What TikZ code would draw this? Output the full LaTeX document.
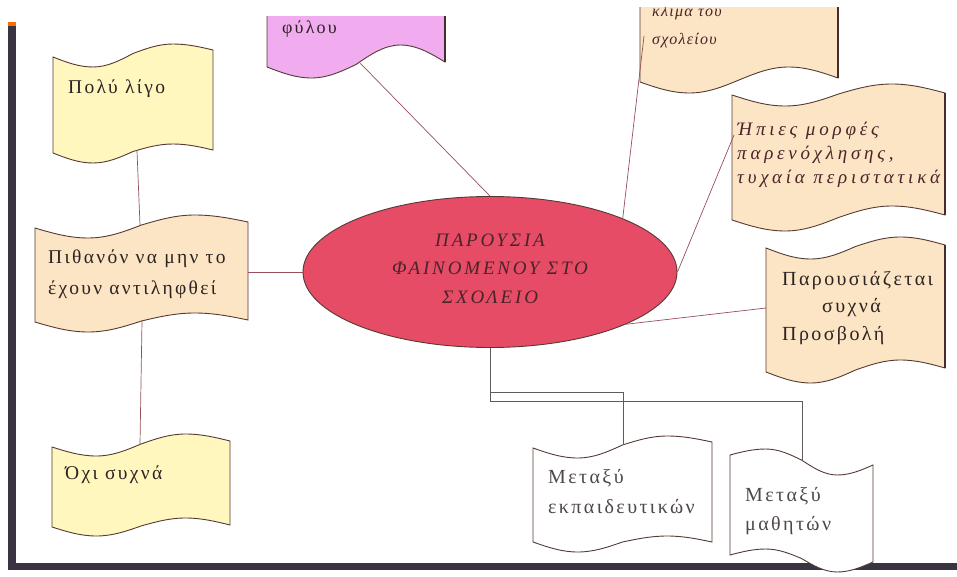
\documentclass[tikz,border=0pt]{standalone}
\usepackage{fontspec}
\setmainfont{Liberation Serif}
\newfontfamily\boxfont[LetterSpace=12]{Liberation Serif}
\newfontfamily\slantfont[LetterSpace=20]{Liberation Serif}
\newfontfamily\smallslant[LetterSpace=8]{Liberation Serif}
\newfontfamily\capfont[LetterSpace=15]{Liberation Serif}
\usetikzlibrary{shapes.geometric}

\definecolor{framec}{RGB}{58,52,66}
\definecolor{edgec}{RGB}{85,58,52}
\definecolor{linkc}{RGB}{150,80,90}
\definecolor{elbowc}{RGB}{95,90,95}
\definecolor{paleyellow}{RGB}{255,247,190}
\definecolor{peach}{RGB}{252,229,196}
\definecolor{orchid}{RGB}{240,172,238}
\definecolor{coral}{RGB}{230,76,102}
\definecolor{ink}{RGB}{45,35,35}
\definecolor{inkred}{RGB}{75,35,40}
\definecolor{inkgray}{RGB}{80,72,72}

% wavy banner outline: x0, x1, top-left y, top-right y,
% bottom-left y, bottom-right y, left swing, right swing
\newcommand\wavepath[8]{%
  (#1,#3) sin ({#1+(#2-#1)/4},{#3+#7}) cos ({(#1+#2)/2},{(#3+#4)/2})
  sin ({#1+3*(#2-#1)/4},{#4-#8}) cos (#2,#4)
  -- (#2,#6) sin ({#1+3*(#2-#1)/4},{#6-#8}) cos ({(#1+#2)/2},{(#5+#6)/2})
  sin ({#1+(#2-#1)/4},{#5+#7}) cos (#1,#5) -- cycle}

\begin{document}
\begin{tikzpicture}[x=1pt,y=-1pt,
  banner/.style={draw=edgec, line width=0.9pt},
  rim/.style={draw=edgec!80!black, line width=1.6pt},
  link/.style={draw=linkc, line width=0.7pt},
  elbow/.style={draw=elbowc, line width=0.8pt},
  txt/.style={anchor=base west, inner sep=0pt, align=left, text=ink,
    font=\boxfont\fontsize{19.5}{30}\selectfont},
  itxt/.style={txt, text=inkred},
]
\useasboundingbox (0,0) rectangle (957,577);
\fill[white] (0,0) rectangle (957,577);

% frame
\fill[framec] (8,24) rectangle (16,570);
\fill[orange!85!red] (8,22) rectangle (16,26);
\fill[framec] (8,563) rectangle (957,570);

% banners
\draw[banner, fill=paleyellow] \wavepath{53}{213}{57}{50}{153}{150}{10}{6};
\draw[banner, fill=peach] \wavepath{35}{248}{228}{222}{322}{320}{10}{7};
\draw[banner, fill=paleyellow] \wavepath{52}{230}{447}{441}{527}{525}{9}{7};
\draw[banner, fill=white] \wavepath{533}{712}{448}{442}{542}{542}{10}{6};
\draw[banner, fill=white] \wavepath{730}{873}{455}{465}{555}{562}{-6}{-10};
\draw[banner, fill=peach] \wavepath{732}{945}{95}{93}{220}{215}{11}{9};
\draw[rim] (945,93) -- (945,215);
\draw[banner, fill=peach] \wavepath{766}{945}{248}{245}{372}{368}{11}{8};
\draw[rim] (945,245) -- (945,368);
\begin{scope}
  \clip (0,17) rectangle (957,577);
  \draw[banner, fill=orchid] \wavepath{267}{445}{-20}{-20}{67}{62}{11}{17};
  \draw[rim] (445,0) -- (445,62);
  \node[txt, font=\boxfont\fontsize{18}{30}\selectfont] (pk-txt) at (282,34) {φύλου};
\end{scope}
\begin{scope}
  \clip (0,8) rectangle (957,577);
  \draw[banner, fill=peach] \wavepath{640}{838}{-20}{-20}{82}{78}{11}{11};
  \draw[rim] (838,0) -- (838,78);
  \node[itxt, font=\smallslant\itshape\fontsize{16}{28}\selectfont] (kl-txt) at (652,45) {κλιμα του\\σχολείου};
\end{scope}

% attachment points on the banners
\coordinate (pl-s) at (137,151);
\coordinate (pt-n) at (140,225);
\coordinate (pt-s) at (142,321);
\coordinate (pt-e) at (248,272);
\coordinate (oc-n) at (140,444);
\coordinate (pk-s) at (360,63);
\coordinate (kl-w) at (644,36);
\coordinate (hp-w) at (734,135);
\coordinate (pr-w) at (766,308);
\coordinate (ek-n) at (623,445);
\coordinate (mt-n) at (802,460);

% central ellipse
\node[ellipse, draw=edgec, line width=0.9pt, fill=coral, inner sep=0pt,
  minimum width=374pt, minimum height=151pt, align=center, text=inkred,
  text depth=7pt, font=\capfont\itshape\fontsize{19}{28.5}\selectfont]
  (core) at (490,272) {ΠΑΡΟΥΣΙΑ\\ΦΑΙΝΟΜΕΝΟΥ ΣΤΟ\\ΣΧΟΛΕΙΟ};

% connectors
\draw[link] (pl-s) -- (pt-n);
\draw[link] (pt-s) -- (oc-n);
\draw[link] (pt-e) -- (core.west);
\draw[link] (pk-s) -- (core.north);
\draw[link] (kl-w) -- (core.22);
\draw[link] (hp-w) -- (core.east);
\draw[link] (pr-w) -- (core.-21);
\draw[elbow] (core.south) -- ++(0,44) -| (ek-n);
\draw[elbow] (core.south) -- ++(0,53) -| (mt-n);

% banner texts (multi-line texts sit on the baseline of their last line)
\node[txt] (pl-txt) at (68,94) {Πολύ λίγο};
\node[txt, font=\boxfont\fontsize{19.5}{31}\selectfont] (pt-txt) at (48,294) {Πιθανόν να μην το\\έχουν αντιληφθεί};
\node[txt] (oc-txt) at (65,479) {Όχι συχνά};
\node[itxt, font=\slantfont\itshape\fontsize{19}{24}\selectfont] (hp-txt) at (737,184) {Ήπιες μορφές\\παρενόχλησης,\\τυχαία περιστατικά};
\node[txt, font=\boxfont\fontsize{20}{27.5}\selectfont] (pr-txt) at (782,340) {Παρουσιάζεται\\\hspace*{40pt}συχνά\\Προσβολή};
\node[txt, text=inkgray, font=\boxfont\fontsize{20}{30}\selectfont] (ek-txt) at (548,513) {Μεταξύ\\εκπαιδευτικών};
\node[txt, text=inkgray, font=\boxfont\fontsize{20}{29}\selectfont] (mt-txt) at (745,530) {Μεταξύ\\μαθητών};
\end{tikzpicture}
\end{document}
